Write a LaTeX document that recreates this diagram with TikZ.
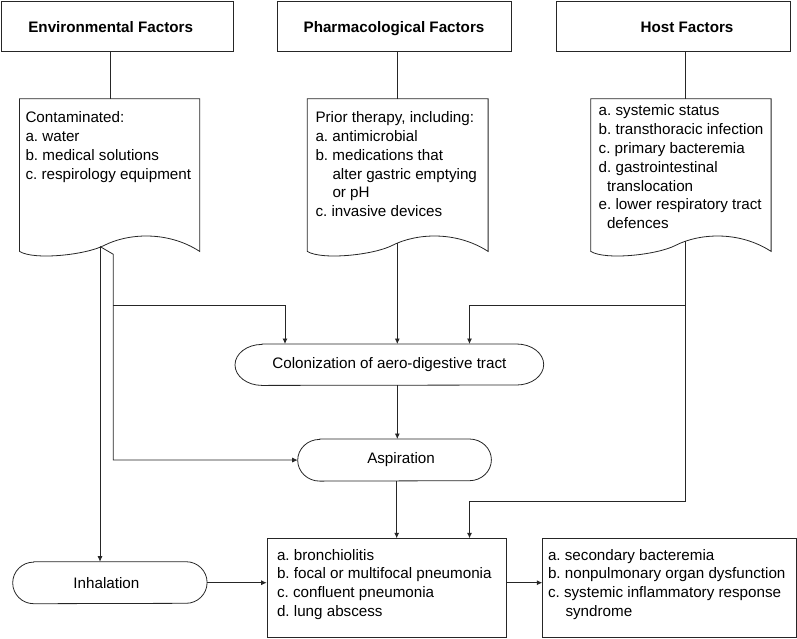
\documentclass[tikz,border=0pt]{standalone}
\usepackage{fontspec}
\setmainfont{Liberation Sans}
\usetikzlibrary{arrows.meta,calc}
\frenchspacing
\tikzset{
  ln/.style={line width=0.8pt, draw=black!85},
  arr/.style={ln, -{Latex[length=5.5pt,width=5pt]}},
  boxed/.style={ln, rectangle, inner sep=0pt, anchor=north west},
  area/.style={rectangle, inner sep=0pt, anchor=north west},
  ttl/.style={font=\fontsize{15.2}{18.8}\selectfont\bfseries, anchor=base, inner sep=0pt},
  body/.style={font=\fontsize{15.2}{18.8}\selectfont, anchor=base west, inner sep=0pt},
  stad/.style={area, font=\fontsize{15.2}{18.8}\selectfont},
}
\newcommand{\txtblock}[1]{\parbox[t]{250pt}{\frenchspacing\raggedright #1}}
\newcommand{\docoutline}[1]{%
  \draw[ln] (#1.north west) -- (#1.north east) -- (#1.south east)
   .. controls ($(#1.south west)!0.82!(#1.south east)+(0,-21)$) and ($(#1.south west)!0.6!(#1.south east)+(0,-18)$) .. ($(#1.south west)!0.47!(#1.south east)+(0,-6)$)
   .. controls ($(#1.south west)!0.366!(#1.south east)+(0,3.6)$) and ($(#1.south west)!0.08!(#1.south east)+(0,9)$) .. (#1.south west) -- cycle;}
\newcommand{\stadiumoutline}[3]{%
  \draw[ln] ([xshift=#2pt]#1.north west) -- ([xshift=-#2pt]#1.north east)
    arc[start angle=90, end angle=-90, x radius=#2pt, y radius=#3pt]
    -- ([xshift=#2pt]#1.south west)
    arc[start angle=270, end angle=90, x radius=#2pt, y radius=#3pt] -- cycle;}
\begin{document}
\begin{tikzpicture}[x=1pt, y=-1pt]
\useasboundingbox (0,0) rectangle (797,638);

% top factor boxes
\node[boxed, minimum width=232.4pt, minimum height=50.4pt] (envbox) at (0.6,0.6) {};
\node[boxed, minimum width=233.4pt, minimum height=50.4pt] (pharmbox) at (277.3,0.6) {};
\node[boxed, minimum width=234.3pt, minimum height=50.4pt] (hostbox) at (555.7,0.6) {};
\node[ttl] (envttl) at (110.7,32) {Environmental Factors};
\node[ttl] (pharmttl) at (394,32) {Pharmacological Factors};
\node[ttl] (hostttl) at (687,32) {Host Factors};

% document shapes
\node[area, minimum width=179.8pt, minimum height=152.3pt] (envdoc) at (19.5,98.7) {};
\node[area, minimum width=180.4pt, minimum height=152.3pt] (pharmdoc) at (307.3,98.7) {};
\node[area, minimum width=180pt, minimum height=152.3pt] (hostdoc) at (590.7,98.7) {};
\docoutline{envdoc}
\docoutline{pharmdoc}
\docoutline{hostdoc}

\node[body] (envtxt) at (25.3,122.6) {\txtblock{Contaminated:\\a. water\\b. medical solutions\\c. respirology equipment}};
\node[body] (pharmtxt) at (315.3,122.6) {\txtblock{Prior therapy, including:\\a. antimicrobial\\b. medications that\\\hspace*{17pt}alter gastric emptying\\\hspace*{17pt}or pH\\c. invasive devices}};
\node[body] (hosttxt) at (598.5,115.8) {\txtblock{a. systemic status\\b. transthoracic infection\\c. primary bacteremia\\d. gastrointestinal\\\hspace*{8.3pt}translocation\\e. lower respiratory tract\\\hspace*{8.3pt}defences}};

% stems
\draw[ln] (110.7,0 |- envbox.south) -- (110.7,0 |- envdoc.north);
\draw[ln] (397.3,0 |- pharmbox.south) -- (397.3,0 |- pharmdoc.north);
\draw[ln] (685,0 |- hostbox.south) -- (685,0 |- hostdoc.north);

% stadium shapes
\node[stad, minimum width=308.3pt, minimum height=41pt] (colon) at (235,344) {Colonization of aero-digestive tract};
\stadiumoutline{colon}{27}{20.5}
\node[stad, minimum width=193.3pt, minimum height=41.7pt] (asp) at (297.7,439) {\hspace*{13pt}Aspiration};
\stadiumoutline{asp}{22}{20.85}
\node[stad, minimum width=194pt, minimum height=41.6pt] (inhal) at (12.7,561.7) {Inhalation\hspace*{7pt}};
\stadiumoutline{inhal}{21}{20.8}

% outcome boxes
\node[boxed, minimum width=239.3pt, minimum height=99pt] (pneu) at (266.7,538.3) {};
\node[boxed, minimum width=253.9pt, minimum height=99pt] (conseq) at (542.3,538.3) {};
\node[body] (pneutxt) at (276.8,560) {\txtblock{a. bronchiolitis\\b. focal or multifocal pneumonia\\c. confluent pneumonia\\d. lung abscess}};
\node[body] (conseqtxt) at (547.8,560) {\txtblock{a. secondary bacteremia\\b. nonpulmonary organ dysfunction\\c. systemic inflammatory response\\\hspace*{17.5pt}syndrome}};

% connectors
\coordinate (envout) at (100,246.5);
\coordinate (envjog) at (113.3,254.3);
\coordinate (envbr) at (113.3,305.7);
\coordinate (envbrend) at (285,305.7);
\draw[arr] (envout) -- (envout |- inhal.north);
\draw[arr] (envout) -- (envjog) -- (envjog |- asp.west) -- (asp.west);
\draw[arr] (envbr) -- (envbrend) -- (envbrend |- colon.north);

\coordinate (pharmout) at (397.3,243.3);
\draw[arr] (pharmout) -- (pharmout |- colon.north);

\coordinate (hostout) at (685,241);
\coordinate (hostturn) at (685,501);
\coordinate (hostleft) at (469.5,501);
\coordinate (hostbr) at (685,305.7);
\coordinate (hostbrend) at (469.5,305.7);
\draw[arr] (hostout) -- (hostturn) -- (hostleft) -- (hostleft |- pneu.north);
\draw[arr] (hostbr) -- (hostbrend) -- (hostbrend |- colon.north);

\draw[arr] (colon.south -| pharmout) -- (asp.north -| pharmout);
\draw[arr] (asp.south -| 396.7,0) -- (pneu.north -| 396.7,0);
\draw[arr] (inhal.east) -- (inhal.east -| pneu.west);
\draw[arr] (pneu.east |- inhal.east) -- (conseq.west |- inhal.east);
\end{tikzpicture}
\end{document}
